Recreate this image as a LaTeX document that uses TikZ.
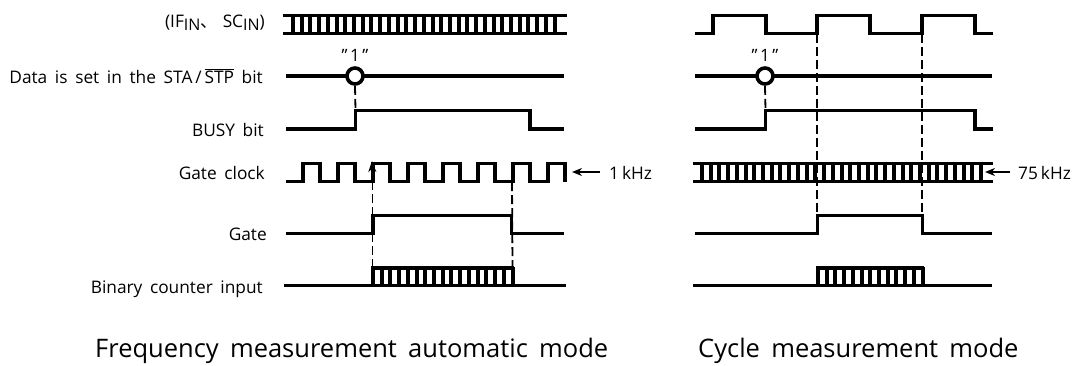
\documentclass[tikz,border=0pt]{standalone}
\usepackage{fontspec}
\setmainfont[WordSpace=1.7]{Open Sans}
\newfontfamily\cjk{Noto Sans CJK JP}
\usetikzlibrary{arrows.meta}
\newcommand{\lowin}{\raisebox{-3.5pt}{\fontsize{16}{18}\selectfont IN}}
\tikzset{
  wave/.style={line width=3.6pt,line cap=butt,line join=miter},
  tooth/.style={line width=4pt},
  guide/.style={line width=1.8pt,dash pattern=on 9pt off 4pt},
  pin/.style={circle,draw,fill=white,line width=3.6pt,minimum size=16pt,inner sep=0pt},
  lbl/.style={anchor=base east,font=\fontsize{17.3}{20}\selectfont,inner sep=0pt},
  txt/.style={anchor=base west,font=\fontsize{17.3}{20}\selectfont,inner sep=0pt},
  one/.style={anchor=base,font=\fontsize{17}{20}\selectfont,inner sep=0pt},
  ttl/.style={anchor=base west,font=\fontsize{25.5}{30}\selectfont,inner sep=0pt},
  tick/.style={-{Stealth[length=10pt,width=8pt]},line width=1.8pt}
}
\newcommand{\combteeth}[4]{% x start, count, y top, y bottom
  \foreach \i in {1,...,#2}{\draw[tooth] ({#1+(\i-1)*8.72},#3) -- ({#1+(\i-1)*8.72},#4);}}
\begin{document}
\begin{tikzpicture}[x=1pt,y=-1pt]
\useasboundingbox (0,0) rectangle (1077,365);
% labels
\node[lbl] (l1) at (265,27) {(IF\lowin{\cjk 、}\hspace{5pt}SC\lowin)};
\node[lbl] (l2) at (263,83) {Data is set in the STA\,/\,$\overline{\mbox{STP}}$ bit};
\node[lbl] (l3) at (264,136) {BUSY bit};
\node[lbl] (l4) at (265,179) {Gate clock};
\node[lbl] (l5) at (267,240) {Gate};
\node[lbl] (l6) at (263,293) {Binary counter input};
% left: row 1
\draw[wave] (283,15.5) -- (567,15.5) (283,33.5) -- (567,33.5);
\combteeth{293}{31}{15}{34}
% left: set pulse
\draw[wave] (286,76) -- (564,76);
\node[pin] (c1) at (355,76) {};
\node[one] (o1) at (355,61) {\textquotedblright\hspace{2.5pt}1\hspace{2.5pt}\textquotedblright};
% left: busy
\coordinate (b1) at (355.5,110);
\draw[wave] (286,129) -- (355.5,129) -- (355.5,110.5) -- (530,110.5) -- (530,129) -- (564,129);
\draw[guide] (c1.south) -- (b1);
% left: gate clock
\draw[wave] (286,181.5) -- (303,181.5) -- (303,163.5) -- (320,163.5) -- (320,181.5)
 -- (338,181.5) -- (338,163.5) -- (355,163.5) -- (355,181.5)
 -- (373,181.5) -- (373,163.5) -- (390,163.5) -- (390,181.5)
 -- (408,181.5) -- (408,163.5) -- (425,163.5) -- (425,181.5)
 -- (443,181.5) -- (443,163.5) -- (460,163.5) -- (460,181.5)
 -- (478,181.5) -- (478,163.5) -- (495,163.5) -- (495,181.5)
 -- (513,181.5) -- (513,163.5) -- (530,163.5) -- (530,181.5)
 -- (548,181.5) -- (548,163.5) -- (565,163.5) -- (565,181.5);
\coordinate (ga) at (372,161);
\coordinate (gb) at (512,182);
\coordinate (gc) at (372.5,181);
% left: gate
\draw[wave] (286,233.5) -- (373,233.5) -- (373,215.5) -- (511.5,215.5) -- (511.5,233.5) -- (564,233.5);
% left: binary counter
\draw[wave] (284,285.5) -- (566,285.5);
\draw[wave] (371,268) -- (514,268);
\combteeth{373}{17}{267}{286}
\coordinate (ia) at (372.5,267);
\coordinate (ib) at (512.5,267);
\draw[guide] (gc) -- (ia);
\draw[guide] (gb) -- (ib);
\draw[-{Stealth[length=11pt,width=8pt]},line width=1.8pt] (gc) -- (ga);
% 1 kHz
\coordinate (k1) at (600,172);
\coordinate (k2) at (572,172);
\draw[tick] (k1) -- (k2);
\node[txt] (k) at (609,179) {1\hspace{3pt}kHz};
% right: row 1
\draw[wave] (695,33.5) -- (713,33.5) -- (713,15.5) -- (766,15.5) -- (766,33.5) -- (817,33.5) -- (817,15.5) -- (870,15.5) -- (870,33.5) -- (922,33.5) -- (922,15.5) -- (975,15.5) -- (975,33.5) -- (993,33.5);
\coordinate (r1) at (817,34);
\coordinate (r2) at (922,34);
% right: set pulse
\draw[wave] (695,76) -- (992,76);
\node[pin] (c2) at (765,76) {};
\node[one] (o2) at (765,61) {\textquotedblright\hspace{2.5pt}1\hspace{2.5pt}\textquotedblright};
% right: busy
\coordinate (b2) at (765.5,110);
\draw[wave] (695,129) -- (765.5,129) -- (765.5,110.5) -- (975,110.5) -- (975,129) -- (993,129);
\draw[guide] (c2.south) -- (b2);
% right: 75 kHz
\draw[wave] (693,163.5) -- (993,163.5) (693,181.5) -- (993,181.5);
\combteeth{702}{33}{163}{182}
\coordinate (k3) at (1010,172);
\coordinate (k4) at (985,172);
\draw[tick] (k3) -- (k4);
\node[txt] (k5) at (1018,179) {75\hspace{3pt}kHz};
% right: gate
\draw[wave] (695,233.5) -- (817.5,233.5) -- (817.5,215.5) -- (922.5,215.5) -- (922.5,233.5) -- (992,233.5);
\coordinate (g1) at (817,215);
\coordinate (g2) at (922,215);
\draw[guide] (r1) -- (g1);
\draw[guide] (r2) -- (g2);
% right: binary counter
\draw[wave] (693,285.5) -- (992,285.5);
\draw[wave] (816,268) -- (924,268);
\combteeth{818}{13}{267}{286}
% titles
\node[ttl] (t1) at (95,357) {Frequency measurement automatic mode};
\node[ttl] (t2) at (698,357) {Cycle measurement mode};
\end{tikzpicture}
\end{document}
